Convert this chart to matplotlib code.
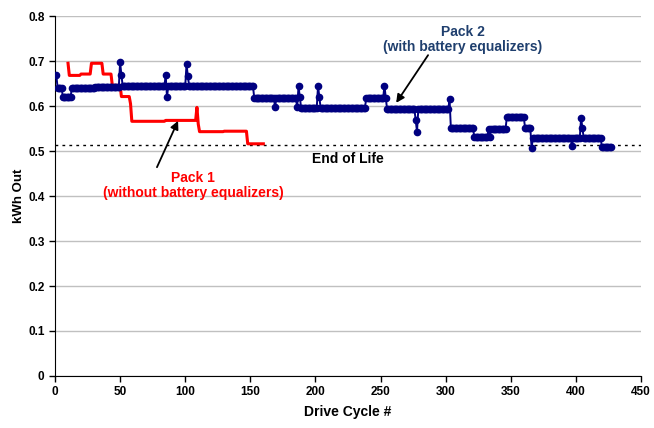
import numpy as np
import matplotlib
matplotlib.use("Agg")
import matplotlib.pyplot as plt

# Pack 2 (with equalizers): runs of (first cycle, last cycle, kWh out)
pack2_start = [1, 2, 6, 13, 31, 50, 51, 52, 85, 86, 87, 101, 102, 103, 153, 169, 170, 186, 187, 188,
               189, 202, 203, 204, 239, 253, 254, 255, 277, 278, 279, 303, 304, 322, 333, 334, 335,
               347, 361, 366, 367, 397, 398, 404, 405, 406, 420]
pack2_end = [1, 5, 12, 30, 49, 50, 51, 84, 85, 86, 100, 101, 102, 152, 168, 169, 185, 186, 187, 188,
             201, 202, 203, 238, 252, 253, 254, 276, 277, 278, 302, 303, 321, 332, 333, 334, 346,
             360, 365, 366, 396, 397, 403, 404, 405, 419, 427]
pack2_kwh = [0.668, 0.641, 0.621, 0.641, 0.643, 0.697, 0.669, 0.644, 0.669, 0.620, 0.644, 0.693, 0.667,
             0.645, 0.618, 0.598, 0.617, 0.597, 0.644, 0.620, 0.596, 0.645, 0.621, 0.595, 0.618, 0.645,
             0.618, 0.593, 0.568, 0.543, 0.593, 0.615, 0.551, 0.531, 0.550, 0.532, 0.550, 0.575, 0.551,
             0.507, 0.529, 0.511, 0.529, 0.574, 0.551, 0.529, 0.509]

# Pack 1 (without equalizers)
pack1_start = [10, 11, 20, 28, 37, 44, 51, 58, 59, 85, 109, 110, 111, 130, 148]
pack1_end = [10, 19, 27, 36, 43, 50, 57, 58, 84, 108, 109, 110, 129, 147, 160]
pack1_kwh = [0.695, 0.668, 0.671, 0.695, 0.671, 0.646, 0.621, 0.605, 0.566, 0.568, 0.597, 0.560,
             0.543, 0.544, 0.516]

end_of_life = 0.514


def expand(starts, ends, vals):
    xs, ys = [], []
    for s, e, v in zip(starts, ends, vals):
        for c in range(s, e + 1):
            xs.append(c)
            ys.append(v)
    return np.array(xs), np.array(ys)


plt.rcParams['font.family'] = ['Liberation Sans', 'DejaVu Sans']
plt.rcParams['font.weight'] = 'bold'

fig = plt.figure(figsize=(6.54, 4.28), dpi=100)
ax = fig.add_axes([0.0841, 0.1215, 0.8960, 0.8411])

x2, y2 = expand(pack2_start, pack2_end, pack2_kwh)
x1, y1 = expand(pack1_start, pack1_end, pack1_kwh)

ax.plot(x1, y1, color='#FF0000', lw=2.2, zorder=3)
ax.plot(x2, y2, color='#000080', lw=1.4, marker='o', ms=4.5, zorder=4)
ax.axhline(end_of_life, color='black', lw=1, ls=(0, (2, 3)), zorder=2)

ax.set_xlim(0, 450)
ax.set_ylim(0, 0.8)
ax.set_xticks(np.arange(0, 451, 50))
ax.set_yticks(np.arange(0, 0.81, 0.1))
ax.set_yticklabels(['0'] + ['%.1f' % v for v in np.arange(0.1, 0.81, 0.1)])
ax.yaxis.grid(True, color='#C0C0C0', lw=1)
ax.set_axisbelow(True)
for s in ['top', 'right']:
    ax.spines[s].set_visible(False)
ax.tick_params(direction='out', length=4, width=1, labelsize=8.5)
for lab in ax.get_xticklabels() + ax.get_yticklabels():
    lab.set_fontweight('bold')

ax.set_xlabel('Drive Cycle #', fontsize=10, fontweight='bold', labelpad=5)
ax.set_ylabel('kWh Out', fontsize=9.5, fontweight='bold', labelpad=2)

ax.text(225, 0.482, 'End of Life', ha='center', va='center', fontsize=10, fontweight='bold')

ax.text(313, 0.747, 'Pack 2\n(with battery equalizers)', ha='center', va='center', fontsize=10,
        fontweight='bold', color='#1F3F6E', linespacing=1.1)
ax.text(106, 0.424, 'Pack 1\n(without battery equalizers)', ha='center', va='center', fontsize=10,
        fontweight='bold', color='#FF0000', linespacing=1.1)

arrow = dict(arrowstyle='-|>', color='black', lw=1.3, mutation_scale=12, shrinkA=0, shrinkB=0)
ax.annotate('', xy=(262, 0.607), xytext=(286.5, 0.713), arrowprops=arrow)
ax.annotate('', xy=(94.5, 0.567), xytext=(78.3, 0.464), arrowprops=arrow)

fig.savefig('out.png', dpi=100)
